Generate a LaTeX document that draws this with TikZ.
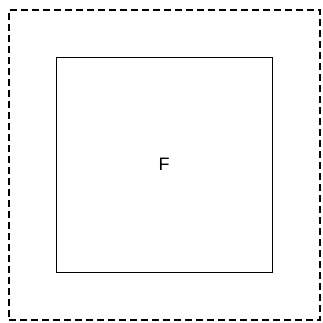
\documentclass[tikz,border=0pt]{standalone}
\usepackage{fontspec}
\setmainfont{Liberation Sans}
\usetikzlibrary{positioning}

\begin{document}
\begin{tikzpicture}[
        x=1pt, y=-1pt,
        frame/.style={rectangle, draw, line width=2.4pt, dash pattern=on 7pt off 4pt, minimum width=311pt, minimum height=310pt, inner sep=0pt},
        room/.style={rectangle, draw, line width=0.8pt, minimum width=216pt, minimum height=215pt, inner sep=0pt, font=\fontsize{18}{21}\selectfont}
    ]
    \useasboundingbox (0,0) rectangle (323,322);

    \node[frame] (outer) at (164.5,165) {};
    \node[room] (inner) at (164,164.5) {F};
\end{tikzpicture}
\end{document}
